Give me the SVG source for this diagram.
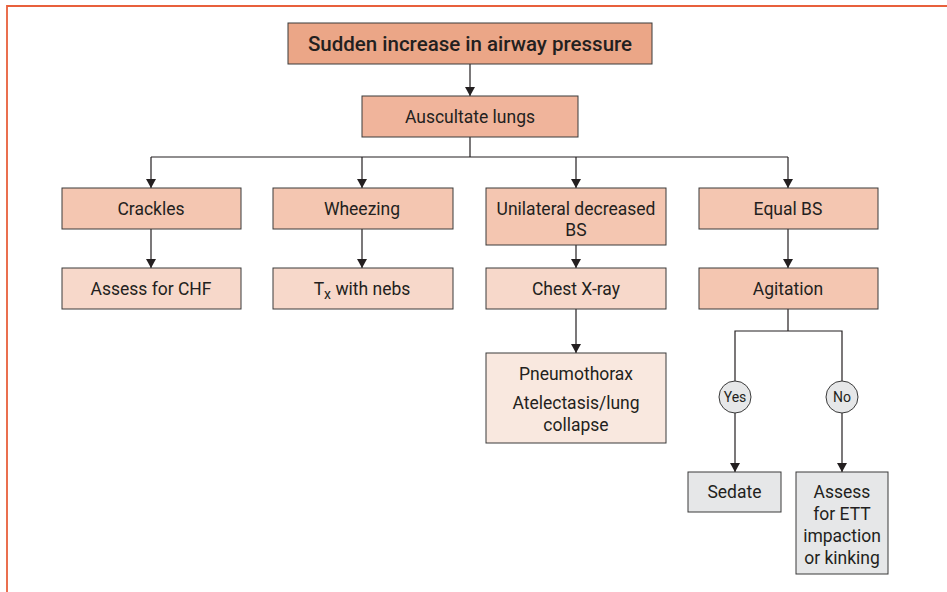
<svg xmlns="http://www.w3.org/2000/svg" width="947" height="592" viewBox="0 0 947 592">
  <defs>
    <marker id="arrow" markerWidth="10" markerHeight="10" refX="9" refY="5" orient="auto" markerUnits="userSpaceOnUse" viewBox="0 0 10 10">
      <path d="M0,0 L9,5 L0,10 Z" fill="#231f20"/>
    </marker>
    <style>
      .box { stroke: #3a3a3a; stroke-width: 1; }
      .c0 { fill: #eba687; }
      .c1 { fill: #f0b49b; }
      .c2 { fill: #f4c6b1; }
      .c3 { fill: #f7d8ca; }
      .c4 { fill: #f9e8df; }
      .grey { fill: #e6e7e8; }
      .t { font-family: Roboto, "Liberation Sans", sans-serif; font-size: 17.5px; fill: #231f20; text-anchor: middle; }
      .title { font-size: 20.5px; font-weight: 500; }
      .sm { font-size: 14px; }
      .wire { fill: none; stroke: #231f20; stroke-width: 1.2; }
      .frame { fill: none; stroke: #e8603c; stroke-width: 1.8; }
    </style>
  </defs>

  <rect width="947" height="592" fill="#ffffff"/>
  <path class="frame" d="M7,592 V6 H947"/>

  <g id="connectors">
    <line class="wire" x1="470" y1="64" x2="470" y2="96" marker-end="url(#arrow)"/>
    <line class="wire" x1="470" y1="137" x2="470" y2="157"/>
    <line class="wire" x1="151" y1="157" x2="788" y2="157"/>
    <line class="wire" x1="151" y1="157" x2="151" y2="188" marker-end="url(#arrow)"/>
    <line class="wire" x1="362" y1="157" x2="362" y2="188" marker-end="url(#arrow)"/>
    <line class="wire" x1="576" y1="157" x2="576" y2="188" marker-end="url(#arrow)"/>
    <line class="wire" x1="788" y1="157" x2="788" y2="188" marker-end="url(#arrow)"/>
    <line class="wire" x1="151" y1="229" x2="151" y2="268" marker-end="url(#arrow)"/>
    <line class="wire" x1="362" y1="229" x2="362" y2="268" marker-end="url(#arrow)"/>
    <line class="wire" x1="576" y1="245" x2="576" y2="268" marker-end="url(#arrow)"/>
    <line class="wire" x1="788" y1="229" x2="788" y2="268" marker-end="url(#arrow)"/>
    <line class="wire" x1="576" y1="309" x2="576" y2="353" marker-end="url(#arrow)"/>
    <path class="wire" d="M788,309 V331 M735,381 V331 H842 V381"/>
    <line class="wire" x1="735" y1="413" x2="735" y2="472" marker-end="url(#arrow)"/>
    <line class="wire" x1="842" y1="413" x2="842" y2="472" marker-end="url(#arrow)"/>
  </g>

  <g id="n-sudden">
    <rect class="box c0" x="288" y="23" width="364" height="41"/>
    <text class="t title" x="470" y="51">Sudden increase in airway pressure</text>
  </g>
  <g id="n-auscultate">
    <rect class="box c1" x="362" y="96" width="216" height="41"/>
    <text class="t" x="470" y="122.5">Auscultate lungs</text>
  </g>
  <g id="n-crackles">
    <rect class="box c2" x="62" y="188" width="179" height="41"/>
    <text class="t" x="151" y="214.5">Crackles</text>
  </g>
  <g id="n-wheezing">
    <rect class="box c2" x="273" y="188" width="180" height="41"/>
    <text class="t" x="362" y="214.5">Wheezing</text>
  </g>
  <g id="n-unilateral">
    <rect class="box c2" x="486" y="188" width="180" height="57"/>
    <text class="t" x="576" y="214.5">Unilateral decreased</text>
    <text class="t" x="576" y="236">BS</text>
  </g>
  <g id="n-equal">
    <rect class="box c2" x="699" y="188" width="179" height="41"/>
    <text class="t" x="788" y="214.5">Equal BS</text>
  </g>
  <g id="n-chf">
    <rect class="box c3" x="62" y="268" width="179" height="41"/>
    <text class="t" x="151" y="294.5">Assess for CHF</text>
  </g>
  <g id="n-nebs">
    <rect class="box c3" x="273" y="268" width="180" height="41"/>
    <text class="t" x="362" y="294.5">T<tspan class="sm" dy="4">x</tspan><tspan dy="-4"> with nebs</tspan></text>
  </g>
  <g id="n-xray">
    <rect class="box c3" x="486" y="268" width="180" height="41"/>
    <text class="t" x="576" y="294.5">Chest X-ray</text>
  </g>
  <g id="n-agitation">
    <rect class="box c2" x="699" y="268" width="179" height="41"/>
    <text class="t" x="788" y="294.5">Agitation</text>
  </g>
  <g id="n-pneumo">
    <rect class="box c4" x="486" y="353" width="180" height="90"/>
    <text class="t" x="576" y="380">Pneumothorax</text>
    <text class="t" x="576" y="409">Atelectasis/lung</text>
    <text class="t" x="576" y="431">collapse</text>
  </g>
  <g id="n-yes">
    <circle class="box grey" cx="735" cy="397" r="16"/>
    <text class="t sm" x="735" y="402">Yes</text>
  </g>
  <g id="n-no">
    <circle class="box grey" cx="842" cy="397" r="16"/>
    <text class="t sm" x="842" y="402">No</text>
  </g>
  <g id="n-sedate">
    <rect class="box grey" x="688" y="472" width="93" height="40"/>
    <text class="t" x="734.5" y="498">Sedate</text>
  </g>
  <g id="n-ett">
    <rect class="box grey" x="796" y="472" width="92" height="102"/>
    <text class="t" x="842" y="498">Assess</text>
    <text class="t" x="842" y="520">for ETT</text>
    <text class="t" x="842" y="542">impaction</text>
    <text class="t" x="842" y="564">or kinking</text>
  </g>
</svg>
